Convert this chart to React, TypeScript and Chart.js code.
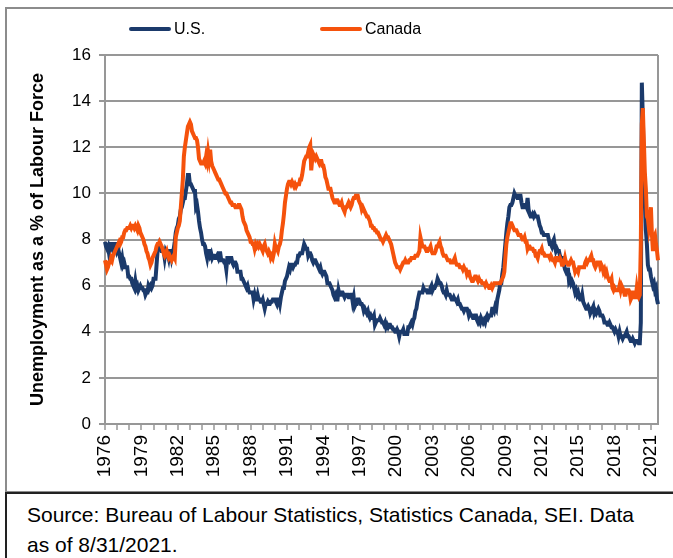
import React, { useEffect, useRef } from 'react';
import { Chart, registerables } from 'chart.js';

Chart.register(...registerables);

const START_YEAR = 1976;
const FONT = '"Liberation Sans", Arial, Helvetica, sans-serif';
const US_COLOR = '#1B3A6B';
const CA_COLOR = '#F5520C';
const GRID = '#979797';

const tickYears = [1976, 1979, 1982, 1985, 1988, 1991, 1994, 1997, 2000, 2003, 2006, 2009, 2012, 2015, 2018, 2021];

// U.S. unemployment rate (%), monthly Jan 1976 - Aug 2021
const usRate = [
  7.9, 7.7, 7.6, 7.7, 7.4, 7.6, 7.8, 7.8, 7.6, 7.7, 7.8, 7.8,
  7.5, 7.6, 7.4, 7.2, 7.0, 7.2, 6.9, 7.0, 6.8, 6.8, 6.8, 6.4,
  6.4, 6.3, 6.3, 6.1, 6.0, 5.9, 6.2, 5.9, 6.0, 5.8, 5.9, 6.0,
  5.9, 5.9, 5.8, 5.8, 5.6, 5.7, 5.7, 6.0, 5.9, 6.0, 5.9, 6.0,
  6.3, 6.3, 6.3, 6.9, 7.5, 7.6, 7.8, 7.7, 7.5, 7.5, 7.5, 7.2,
  7.5, 7.4, 7.4, 7.2, 7.5, 7.5, 7.2, 7.4, 7.6, 7.9, 8.3, 8.5,
  8.6, 8.9, 9.0, 9.3, 9.4, 9.6, 9.8, 9.8, 10.1, 10.4, 10.8, 10.8,
  10.4, 10.4, 10.3, 10.2, 10.1, 10.1, 9.4, 9.5, 9.2, 8.8, 8.5, 8.3,
  8.0, 7.8, 7.8, 7.7, 7.4, 7.2, 7.5, 7.5, 7.3, 7.4, 7.2, 7.3,
  7.3, 7.2, 7.2, 7.3, 7.2, 7.4, 7.4, 7.1, 7.1, 7.1, 7.0, 7.0,
  6.7, 7.2, 7.2, 7.1, 7.2, 7.2, 7.0, 6.9, 7.0, 7.0, 6.9, 6.6,
  6.6, 6.6, 6.6, 6.3, 6.3, 6.2, 6.1, 6.0, 5.9, 6.0, 5.8, 5.7,
  5.7, 5.7, 5.7, 5.4, 5.6, 5.4, 5.4, 5.6, 5.4, 5.4, 5.3, 5.3,
  5.4, 5.2, 5.0, 5.2, 5.2, 5.3, 5.2, 5.2, 5.3, 5.3, 5.4, 5.4,
  5.4, 5.3, 5.2, 5.4, 5.4, 5.2, 5.5, 5.7, 5.9, 5.9, 6.2, 6.3,
  6.4, 6.6, 6.8, 6.7, 6.9, 6.9, 6.8, 6.9, 6.9, 7.0, 7.0, 7.3,
  7.3, 7.4, 7.4, 7.4, 7.6, 7.8, 7.7, 7.6, 7.6, 7.3, 7.4, 7.4,
  7.3, 7.1, 7.0, 7.1, 7.1, 7.0, 6.9, 6.8, 6.7, 6.8, 6.6, 6.5,
  6.6, 6.6, 6.5, 6.4, 6.1, 6.1, 6.1, 6.0, 5.9, 5.8, 5.6, 5.5,
  5.6, 5.4, 5.4, 5.8, 5.6, 5.6, 5.7, 5.7, 5.6, 5.5, 5.6, 5.6,
  5.6, 5.5, 5.5, 5.6, 5.6, 5.3, 5.5, 5.1, 5.2, 5.2, 5.4, 5.4,
  5.3, 5.2, 5.2, 5.1, 4.9, 5.0, 4.9, 4.8, 4.9, 4.7, 4.6, 4.7,
  4.6, 4.6, 4.7, 4.3, 4.4, 4.5, 4.5, 4.5, 4.6, 4.5, 4.4, 4.4,
  4.3, 4.4, 4.2, 4.3, 4.2, 4.3, 4.3, 4.2, 4.2, 4.1, 4.1, 4.0,
  4.0, 4.1, 4.0, 3.8, 4.0, 4.0, 4.0, 4.1, 3.9, 3.9, 3.9, 3.9,
  4.2, 4.2, 4.3, 4.4, 4.3, 4.5, 4.6, 4.9, 5.0, 5.3, 5.5, 5.7,
  5.7, 5.7, 5.7, 5.9, 5.8, 5.8, 5.8, 5.7, 5.7, 5.7, 5.9, 6.0,
  5.8, 5.9, 5.9, 6.0, 6.1, 6.3, 6.2, 6.1, 6.1, 6.0, 5.8, 5.7,
  5.7, 5.6, 5.8, 5.6, 5.6, 5.6, 5.5, 5.4, 5.4, 5.5, 5.4, 5.4,
  5.3, 5.4, 5.2, 5.2, 5.1, 5.0, 5.0, 4.9, 5.0, 5.0, 5.0, 4.9,
  4.7, 4.8, 4.7, 4.7, 4.6, 4.6, 4.7, 4.7, 4.5, 4.4, 4.5, 4.4,
  4.6, 4.5, 4.4, 4.5, 4.4, 4.6, 4.7, 4.6, 4.7, 4.7, 4.7, 5.0,
  5.0, 4.9, 5.1, 5.0, 5.4, 5.6, 5.8, 6.1, 6.1, 6.5, 6.8, 7.3,
  7.8, 8.3, 8.7, 9.0, 9.4, 9.5, 9.5, 9.6, 9.8, 10.0, 9.9, 9.9,
  9.8, 9.8, 9.9, 9.9, 9.6, 9.4, 9.4, 9.5, 9.5, 9.4, 9.8, 9.3,
  9.1, 9.0, 9.0, 9.1, 9.0, 9.1, 9.0, 9.0, 9.0, 8.8, 8.6, 8.5,
  8.3, 8.3, 8.2, 8.2, 8.2, 8.2, 8.2, 8.0, 7.8, 7.8, 7.7, 7.9,
  8.0, 7.7, 7.5, 7.6, 7.5, 7.5, 7.3, 7.2, 7.2, 7.2, 6.9, 6.7,
  6.6, 6.7, 6.7, 6.2, 6.3, 6.1, 6.2, 6.1, 5.9, 5.7, 5.8, 5.6,
  5.7, 5.5, 5.4, 5.4, 5.6, 5.3, 5.2, 5.1, 5.0, 5.0, 5.1, 5.0,
  4.8, 4.9, 5.0, 5.1, 4.8, 4.9, 4.8, 4.9, 5.0, 4.9, 4.7, 4.7,
  4.7, 4.6, 4.4, 4.4, 4.4, 4.3, 4.3, 4.4, 4.3, 4.2, 4.2, 4.1,
  4.0, 4.1, 4.0, 4.0, 3.8, 4.0, 3.8, 3.8, 3.7, 3.8, 3.8, 3.9,
  4.0, 3.8, 3.8, 3.7, 3.6, 3.6, 3.7, 3.6, 3.5, 3.6, 3.6, 3.6,
  3.5, 3.5, 4.4, 14.8, 13.3, 11.1, 10.2, 8.4, 7.8, 6.9, 6.7, 6.7,
  6.4, 6.2, 6.0, 6.1, 5.8, 5.9, 5.4, 5.2,
];

// Canada unemployment rate (%), monthly Jan 1976 - Aug 2021
const caRate = [
  7.1, 6.9, 6.7, 6.8, 7.0, 7.0, 7.2, 7.1, 7.3, 7.4, 7.5, 7.6,
  7.7, 7.8, 7.9, 7.8, 7.9, 8.1, 8.1, 8.3, 8.4, 8.4, 8.5, 8.5,
  8.5, 8.6, 8.5, 8.6, 8.6, 8.5, 8.6, 8.5, 8.4, 8.6, 8.5, 8.3,
  8.2, 8.1, 8.0, 7.8, 7.7, 7.5, 7.4, 7.2, 7.1, 6.9, 7.0, 7.2,
  7.3, 7.4, 7.5, 7.7, 7.8, 7.8, 7.9, 7.8, 7.7, 7.6, 7.4, 7.3,
  7.4, 7.5, 7.3, 7.2, 7.3, 7.2, 7.1, 7.2, 7.3, 7.2, 8.1, 8.3,
  8.5, 8.6, 8.8, 9.4, 10.0, 10.6, 11.6, 12.0, 12.3, 12.6, 12.9, 13.0,
  13.1, 13.0, 12.7, 12.6, 12.5, 12.4, 12.4, 12.3, 12.0, 11.5, 11.4, 11.3,
  11.3, 11.3, 11.4, 11.3, 11.6, 11.4, 11.8, 11.5, 11.9, 11.4, 11.2, 11.1,
  11.0, 10.9, 10.8, 10.7, 10.6, 10.6, 10.5, 10.4, 10.3, 10.2, 10.1, 10.0,
  10.0, 9.9, 9.8, 9.7, 9.6, 9.6, 9.5, 9.5, 9.5, 9.4, 9.4, 9.4,
  9.5, 9.5, 9.4, 9.3, 9.0, 8.8, 8.7, 8.6, 8.4, 8.3, 8.2, 8.1,
  7.9, 7.9, 7.8, 7.8, 7.6, 7.8, 7.7, 7.8, 7.7, 7.8, 7.7, 7.6,
  7.5, 7.7, 7.8, 7.6, 7.5, 7.4, 7.5, 7.4, 7.2, 7.3, 7.2, 7.4,
  7.8, 7.6, 7.6, 7.5, 7.7, 7.8, 8.0, 8.4, 8.7, 9.1, 9.6, 9.9,
  10.2, 10.4, 10.5, 10.5, 10.4, 10.5, 10.4, 10.3, 10.4, 10.3, 10.4, 10.4,
  10.4, 10.6, 10.6, 10.8, 11.1, 11.4, 11.5, 11.6, 11.6, 11.8, 12.0, 12.1,
  11.0, 11.5, 11.7, 11.6, 11.5, 11.6, 11.5, 11.4, 11.3, 11.4, 11.4, 11.2,
  11.2, 11.0, 10.7, 10.6, 10.4, 10.2, 10.2, 10.2, 10.0, 9.8, 9.7, 9.6,
  9.6, 9.7, 9.7, 9.6, 9.5, 9.5, 9.6, 9.4, 9.3, 9.2, 9.4, 9.4,
  9.5, 9.6, 9.5, 9.4, 9.5, 9.7, 9.8, 9.8, 9.9, 9.9, 9.9, 9.7,
  9.6, 9.5, 9.3, 9.4, 9.3, 9.2, 9.1, 9.0, 9.0, 8.9, 8.8, 8.6,
  8.6, 8.5, 8.5, 8.4, 8.4, 8.3, 8.3, 8.2, 8.1, 8.0, 8.0, 7.9,
  8.0, 8.1, 8.2, 8.1, 8.1, 8.0, 7.9, 7.8, 7.6, 7.4, 7.2, 7.0,
  6.9, 6.8, 6.8, 6.8, 6.7, 6.8, 6.9, 7.0, 7.0, 7.1, 7.0, 7.0,
  7.0, 7.1, 7.1, 7.2, 7.2, 7.2, 7.2, 7.3, 7.3, 7.3, 7.4, 7.5,
  8.1, 7.9, 7.7, 7.7, 7.7, 7.6, 7.5, 7.5, 7.6, 7.6, 7.7, 7.5,
  7.4, 7.4, 7.4, 7.5, 7.7, 7.7, 7.8, 7.9, 7.7, 7.6, 7.4, 7.3,
  7.3, 7.3, 7.2, 7.1, 7.1, 7.1, 7.0, 7.0, 7.0, 7.1, 7.2, 7.0,
  6.9, 6.9, 6.9, 6.8, 6.8, 6.8, 6.7, 6.8, 6.7, 6.7, 6.5, 6.6,
  6.6, 6.4, 6.3, 6.2, 6.2, 6.3, 6.4, 6.4, 6.3, 6.2, 6.3, 6.2,
  6.2, 6.1, 6.1, 6.1, 6.0, 6.1, 6.0, 6.0, 5.9, 5.9, 6.0, 5.9,
  6.0, 6.1, 6.1, 6.1, 6.1, 6.1, 6.1, 6.1, 6.2, 6.3, 6.4, 6.6,
  7.2, 7.8, 8.1, 8.3, 8.5, 8.7, 8.7, 8.6, 8.5, 8.4, 8.4, 8.4,
  8.3, 8.2, 8.2, 8.2, 8.1, 8.0, 8.0, 8.1, 7.9, 7.9, 7.6, 7.7,
  7.7, 7.6, 7.6, 7.6, 7.5, 7.5, 7.3, 7.3, 7.2, 7.4, 7.5, 7.5,
  7.6, 7.4, 7.4, 7.3, 7.3, 7.3, 7.3, 7.3, 7.2, 7.3, 7.2, 7.1,
  7.1, 7.0, 7.2, 7.2, 7.1, 7.1, 7.2, 7.1, 6.9, 6.9, 7.0, 7.2,
  7.0, 7.0, 6.9, 6.9, 7.0, 7.1, 7.0, 7.0, 6.8, 6.6, 6.7, 6.7,
  6.6, 6.8, 6.8, 6.8, 6.8, 6.8, 6.8, 7.0, 7.1, 7.0, 7.1, 7.1,
  7.2, 7.3, 7.1, 7.1, 6.9, 6.8, 6.9, 7.0, 7.0, 7.0, 6.8, 6.9,
  6.8, 6.6, 6.7, 6.5, 6.6, 6.4, 6.3, 6.2, 6.2, 6.3, 5.9, 5.8,
  5.9, 5.8, 5.8, 5.8, 5.8, 6.0, 5.8, 6.0, 5.9, 5.8, 5.6, 5.6,
  5.8, 5.8, 5.8, 5.7, 5.4, 5.5, 5.7, 5.7, 5.5, 5.5, 5.9, 5.6,
  5.5, 5.6, 7.8, 13.0, 13.7, 12.3, 10.9, 10.2, 9.0, 8.9, 8.5, 8.8,
  9.4, 8.2, 7.5, 8.1, 8.2, 7.8, 7.5, 7.1,
];

const seriesNames = ['U.S.', 'Canada'];
const yAxisTitle = 'Unemployment as a % of Labour Force';
const sourceLines = ['Source: Bureau of Labour Statistics, Statistics Canada, SEI. Data', 'as of 8/31/2021.'];

export default function App() {
  const canvasRef = useRef<HTMLCanvasElement | null>(null);

  useEffect(() => {
    const canvas = canvasRef.current;
    if (!canvas) return;
    const labels = usRate.map((_, i) => `${START_YEAR + Math.floor(i / 12)}-${(i % 12) + 1}`);
    const lastIndex = labels.length - 1;
    const chart = new Chart(canvas, {
      type: 'line',
      data: {
        labels,
        datasets: [
          {
            label: seriesNames[0],
            data: usRate,
            borderColor: US_COLOR,
            backgroundColor: US_COLOR,
            borderWidth: 4,
            pointRadius: 0,
            tension: 0,
            order: 1,
          },
          {
            label: seriesNames[1],
            data: caRate,
            borderColor: CA_COLOR,
            backgroundColor: CA_COLOR,
            borderWidth: 4,
            pointRadius: 0,
            tension: 0,
            order: 0,
          },
        ],
      },
      options: {
        responsive: false,
        animation: false,
        devicePixelRatio: 1,
        layout: { padding: { left: 0, right: 15, top: 55, bottom: 0 } },
        plugins: {
          legend: { display: false },
          tooltip: { enabled: false },
        },
        scales: {
          x: {
            type: 'category',
            offset: false,
            grid: {
              drawOnChartArea: true,
              color: (c: any) => (c.index === lastIndex ? GRID : 'rgba(0,0,0,0)'),
              lineWidth: 2,
              tickLength: 6,
              tickColor: (c: any) => (c.index % 12 === 0 ? GRID : 'rgba(0,0,0,0)'),
              tickWidth: 1.5,
            },
            border: { display: true, color: GRID, width: 2 },
            ticks: {
              autoSkip: false,
              maxRotation: 90,
              minRotation: 90,
              padding: 5,
              color: '#000',
              font: { family: FONT, size: 19 },
              callback: (_v: any, i: number) => {
                if (i % 12 !== 0) return '';
                const yr = START_YEAR + i / 12;
                return tickYears.includes(yr) ? String(yr) : '';
              },
            },
            afterFit: (s: any) => {
              s.height = 73;
              s.paddingLeft = 0;
              s.paddingRight = 0;
            },
          },
          y: {
            min: 0,
            max: 16,
            ticks: {
              stepSize: 2,
              padding: 8,
              color: '#000',
              font: { family: FONT, size: 17 },
            },
            grid: { color: GRID, lineWidth: 2, tickLength: 6, tickColor: GRID },
            border: { display: true, color: GRID, width: 2 },
            title: {
              display: true,
              text: yAxisTitle,
              color: '#000',
              font: { family: FONT, size: 18, weight: 'bold' },
              padding: { top: 27, bottom: 0 },
            },
            afterFit: (s: any) => {
              s.width = 105;
            },
          },
        },
      },
    } as any);
    return () => chart.destroy();
  }, []);

  const legendItem = (color: string, text: string, left: number) => (
    <div style={{ position: 'absolute', left, top: 18, height: 22, display: 'flex', alignItems: 'center' }}>
      <span style={{ display: 'inline-block', width: 42, height: 4, background: color, borderRadius: 2 }} />
      <span style={{ marginLeft: 3, fontFamily: FONT, fontSize: 16, color: '#000', lineHeight: '22px' }}>{text}</span>
    </div>
  );

  return (
    <div style={{ position: 'absolute', left: 0, top: 0, width: 673, height: 558, overflow: 'hidden', background: '#fff' }}>
      <div style={{ position: 'absolute', left: 5, top: 7, width: 700, height: 486, border: '2px solid #8c8c8c', boxSizing: 'border-box' }} />
      <div style={{ position: 'absolute', left: 5, top: 492, width: 700, height: 100, borderTop: '2px solid #222', borderLeft: '2px solid #222', boxSizing: 'border-box' }} />
      <canvas ref={canvasRef} width={673} height={497} style={{ position: 'absolute', left: 0, top: 0, width: 673, height: 497 }} />
      {legendItem(US_COLOR, seriesNames[0], 129)}
      {legendItem(CA_COLOR, seriesNames[1], 320)}
      <div style={{ position: 'absolute', left: 27, top: 500, fontFamily: FONT, fontSize: 21, lineHeight: '30px', color: '#000', whiteSpace: 'nowrap' }}>
        {sourceLines[0]}
        <br />
        {sourceLines[1]}
      </div>
    </div>
  );
}
